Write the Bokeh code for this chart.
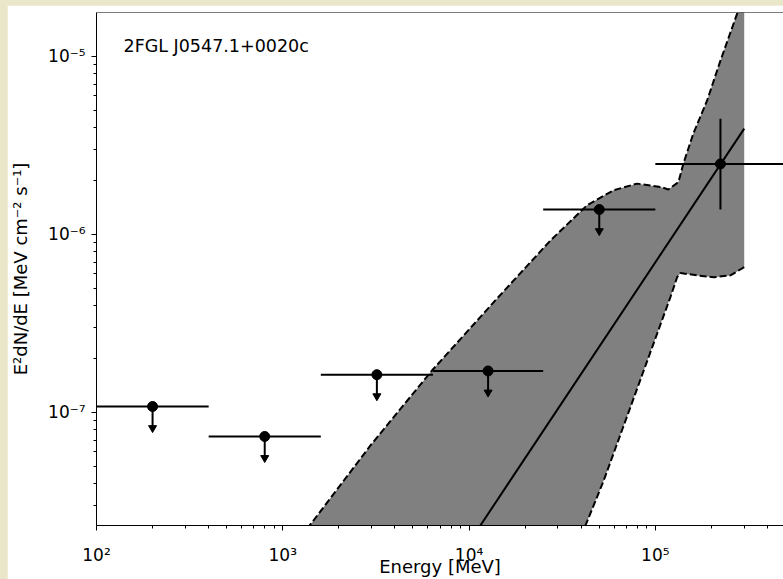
import numpy as np
from bokeh.plotting import figure
from bokeh.models import Range1d, FixedTicker, CustomJSTickFormatter, Label, Span
from bokeh.layouts import column
from bokeh.embed import file_html
from bokeh.resources import INLINE

# ---------------- data ----------------
SOURCE_NAME = "2FGL J0547.1+0020c"
X_LABEL = "Energy [MeV]"
Y_LABEL = "E²dN/dE [MeV cm⁻² s⁻¹]"

bin_lo = [100, 400, 1600, 6400, 25000, 100000]
bin_hi = [400, 1600, 6400, 25000, 100000, 500000]
bin_energy = [200, 800, 3200, 12650, 50000, 223600]
bin_flux = [1.08e-7, 7.33e-8, 1.63e-7, 1.71e-7, 1.38e-6, 2.49e-6]
is_upper_limit = [True, True, True, True, True, False]
flux_err_low = [None, None, None, None, None, 1.38e-6]
flux_err_high = [None, None, None, None, None, 4.47e-6]

model_energy = [1.0e4, 3.0e5]
model_flux = [1.86e-8, 3.93e-6]

band_upper_energy = [1242, 1422, 2985, 6324, 13836, 27353, 43053, 59566, 79799,
                     106414, 117490, 133045, 141579, 159956, 189671, 223872,
                     274789, 300000]
band_upper_flux = [2.01e-8, 2.38e-8, 6.61e-8, 1.72e-7, 4.26e-7, 9.25e-7, 1.46e-6,
                   1.77e-6, 1.93e-6, 1.85e-6, 1.79e-6, 1.97e-6, 2.51e-6, 3.69e-6,
                   5.66e-6, 9.51e-6, 1.74e-5, 2.26e-5]
band_lower_energy = [300000, 252930, 206063, 167494, 136458, 130918, 120504,
                     83176, 52845, 42170, 39628]
band_lower_flux = [6.55e-7, 5.89e-7, 5.75e-7, 5.89e-7, 6.07e-7, 5.75e-7, 4.45e-7,
                   1.53e-7, 4.15e-8, 2.32e-8, 1.91e-8]

x_major_ticks = [1e2, 1e3, 1e4, 1e5]
y_major_ticks = [1e-8, 1e-7, 1e-6, 1e-5, 1e-4]

X_START, X_END = 100, 487500
Y_START, Y_END = 2.317e-8, 1.766e-5

ARROW_DECADES = 0.14   # length of upper-limit arrows (style)

# ---------------- figure ----------------
FONT = "DejaVu Sans"
p = figure(width=776, height=574, x_axis_type="log", y_axis_type="log",
           x_range=Range1d(X_START, X_END), y_range=Range1d(Y_START, Y_END),
           output_backend="svg", toolbar_location=None,
           min_border_left=89, min_border_right=0, min_border_top=7,
           min_border_bottom=54)
p.margin = (5, 0, 0, 7)
p.outline_line_color = None
p.background_fill_color = "white"
p.border_fill_color = "white"
p.xgrid.grid_line_color = None
p.ygrid.grid_line_color = None

x_minor = [k * t for t in x_major_ticks + [1e1] for k in range(2, 10)]
y_minor = [k * t for t in y_major_ticks + [1e-9] for k in range(2, 10)]
p.xaxis.ticker = FixedTicker(ticks=x_major_ticks, minor_ticks=x_minor)
p.yaxis.ticker = FixedTicker(ticks=y_major_ticks, minor_ticks=y_minor)

fmt_code = """
const e = Math.round(Math.log10(tick));
const sup = {'-':'\u207b','0':'\u2070','1':'\u00b9','2':'\u00b2','3':'\u00b3',
             '4':'\u2074','5':'\u2075','6':'\u2076','7':'\u2077','8':'\u2078','9':'\u2079'};
return '10' + String(e).split('').map(c => sup[c]).join('');
"""
for ax in (p.xaxis, p.yaxis):
    ax.formatter = CustomJSTickFormatter(code=fmt_code)
    ax.major_tick_out = 5
    ax.major_tick_in = 0
    ax.minor_tick_out = 3
    ax.minor_tick_in = 0
    ax.major_tick_line_color = "black"
    ax.minor_tick_line_color = "black"
    ax.axis_line_color = "black"
    ax.major_label_text_font = FONT
    ax.major_label_text_font_size = "17px"
    ax.major_label_text_color = "black"
    ax.axis_label_text_font = FONT
    ax.axis_label_text_font_size = "18px"
    ax.axis_label_text_font_style = "normal"
    ax.axis_label_text_color = "black"

p.xaxis.axis_label = X_LABEL
p.yaxis.axis_label = Y_LABEL
p.xaxis.major_label_standoff = 14
p.xaxis.axis_label_standoff = -12
p.yaxis.major_label_standoff = 6
p.yaxis.axis_label_standoff = 14

p.add_layout(Span(location=Y_END, dimension="width", line_color="black", line_width=1))

# band
p.patch(band_upper_energy + band_lower_energy, band_upper_flux + band_lower_flux,
        fill_color="#808080", line_color=None)
p.line(band_upper_energy, band_upper_flux, line_color="black", line_width=2,
       line_dash="7 3")
p.line(band_lower_energy, band_lower_flux, line_color="black", line_width=2,
       line_dash="7 3")

# model
p.line(model_energy, model_flux, line_color="black", line_width=2)

# horizontal bars
p.segment(x0=bin_lo, y0=bin_flux, x1=bin_hi, y1=bin_flux, line_color="black",
          line_width=2)

# upper-limit arrows
ul_x = [e for e, u in zip(bin_energy, is_upper_limit) if u]
ul_y = [f for f, u in zip(bin_flux, is_upper_limit) if u]
ul_head = [f * 10 ** (-ARROW_DECADES * 0.86) for f in ul_y]
p.segment(x0=ul_x, y0=ul_y, x1=ul_x, y1=ul_head, line_color="black", line_width=2)
p.scatter(ul_x, ul_head, marker="inverted_triangle", size=8, fill_color="black",
          line_color="black")

# vertical error bars
eb_x = [e for e, lo in zip(bin_energy, flux_err_low) if lo is not None]
eb_lo = [lo for lo in flux_err_low if lo is not None]
eb_hi = [hi for hi in flux_err_high if hi is not None]
p.segment(x0=eb_x, y0=eb_lo, x1=eb_x, y1=eb_hi, line_color="black", line_width=2)

# points
p.scatter(bin_energy, bin_flux, size=10, fill_color="black", line_color="black")

p.add_layout(Label(x=27, y=480, x_units="screen", y_units="screen",
                   text=SOURCE_NAME, text_font=FONT, text_font_size="17.5px",
                   text_color="black", text_baseline="alphabetic"))

layout = column(p, styles={"background-color": "#eae6ca"})
open("out.html", "w").write(file_html(layout, INLINE))
